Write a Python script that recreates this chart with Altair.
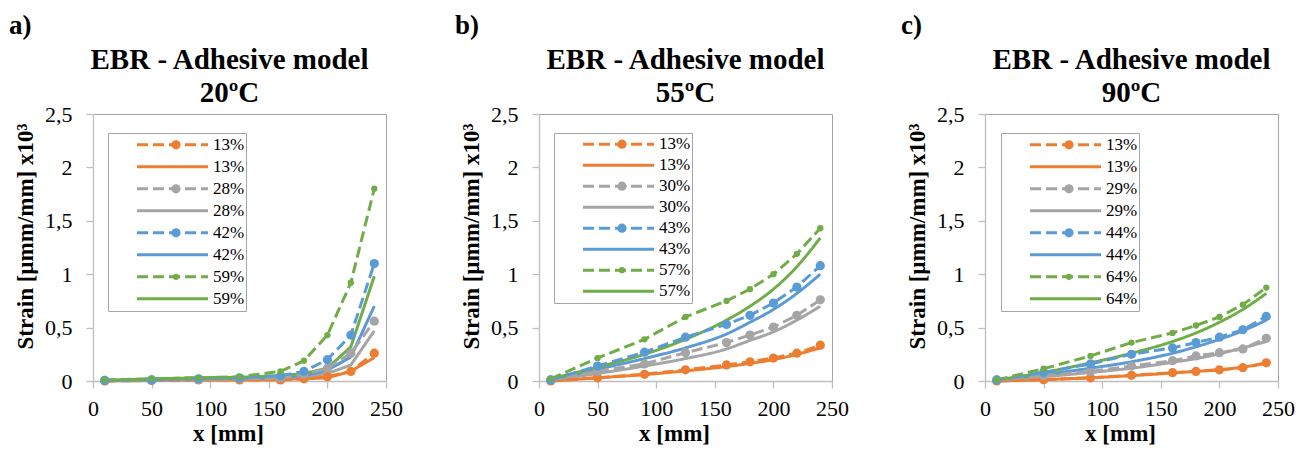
import altair as alt
import pandas as pd

# ---------------- data ----------------
X = [10, 50, 90, 125, 160, 180, 200, 220, 240]

# Panel a) 20ºC
A_LABELS = ["13%", "13%", "28%", "28%", "42%", "42%", "59%", "59%"]
A_EXP = [
    [0.00, 0.005, 0.01, 0.01, 0.01, 0.02, 0.04, 0.09, 0.26],
    [0.005, 0.01, 0.015, 0.02, 0.03, 0.06, 0.12, 0.26, 0.56],
    [0.005, 0.01, 0.02, 0.03, 0.05, 0.09, 0.20, 0.43, 1.10],
    [0.01, 0.02, 0.03, 0.04, 0.09, 0.19, 0.43, 0.92, 1.80],
]
A_NUM = [
    [0.00, 0.005, 0.01, 0.01, 0.015, 0.02, 0.03, 0.09, 0.22],
    [0.005, 0.01, 0.015, 0.02, 0.025, 0.04, 0.07, 0.15, 0.47],
    [0.005, 0.015, 0.02, 0.025, 0.03, 0.05, 0.10, 0.225, 0.70],
    [0.005, 0.02, 0.03, 0.035, 0.05, 0.07, 0.12, 0.32, 0.98],
]

# Panel b) 55ºC
B_LABELS = ["13%", "13%", "30%", "30%", "43%", "43%", "57%", "57%"]
B_EXP = [
    [0.00, 0.03, 0.063, 0.105, 0.15, 0.18, 0.215, 0.26, 0.335],
    [0.01, 0.09, 0.16, 0.265, 0.36, 0.43, 0.505, 0.615, 0.76],
    [0.01, 0.14, 0.27, 0.41, 0.53, 0.615, 0.73, 0.88, 1.08],
    [0.02, 0.215, 0.39, 0.60, 0.75, 0.86, 1.00, 1.19, 1.43],
]
B_NUM = [
    [0.00, 0.03, 0.06, 0.095, 0.135, 0.165, 0.20, 0.25, 0.31],
    [0.01, 0.07, 0.14, 0.21, 0.30, 0.38, 0.46, 0.57, 0.70],
    [0.01, 0.11, 0.21, 0.31, 0.44, 0.55, 0.67, 0.82, 1.00],
    [0.02, 0.13, 0.25, 0.39, 0.57, 0.70, 0.86, 1.07, 1.34],
]

# Panel c) 90ºC
C_LABELS = ["13%", "13%", "29%", "29%", "44%", "44%", "64%", "64%"]
C_EXP = [
    [0.00, 0.012, 0.03, 0.053, 0.078, 0.09, 0.105, 0.125, 0.17],
    [0.01, 0.05, 0.09, 0.14, 0.19, 0.235, 0.265, 0.30, 0.40],
    [0.01, 0.08, 0.16, 0.25, 0.31, 0.36, 0.41, 0.48, 0.605],
    [0.01, 0.115, 0.235, 0.36, 0.45, 0.52, 0.60, 0.715, 0.875],
]
C_NUM = [
    [0.00, 0.013, 0.03, 0.05, 0.075, 0.09, 0.105, 0.13, 0.165],
    [0.005, 0.04, 0.08, 0.12, 0.175, 0.21, 0.255, 0.31, 0.37],
    [0.01, 0.06, 0.12, 0.18, 0.26, 0.32, 0.39, 0.47, 0.57],
    [0.01, 0.08, 0.17, 0.26, 0.37, 0.45, 0.55, 0.67, 0.82],
]

TAGS = ["a)", "b)", "c)"]
TEMPS = ["20ºC", "55ºC", "90ºC"]
TITLE_LINE = "EBR - Adhesive model"
X_TICKS = [0, 50, 100, 150, 200, 250]
Y_TICKS = [0, 0.5, 1, 1.5, 2, 2.5]

# ---------------- styles ----------------
COLORS = ["#ED7D31", "#A5A5A5", "#5B9BD5", "#70AD47"]
FONT = "Liberation Serif"
NBSP = "\u00a0" * 7
KEYS = list(range(8))
DOT_KEYS = list(range(10, 18))
COLOR_RANGE = [c for c in COLORS for _ in range(2)]
DOT_FILL_RANGE = [COLORS[0], "transparent", COLORS[1], "transparent",
                  COLORS[2], "transparent", COLORS[3], "transparent"]
DASH_RANGE = [[11, 5], [1, 0]] * 4
DOT_SIZE_RANGE = [85, 0, 85, 0, 85, 0, 40, 0]


def panel(idx, labels, exp_s, num_s, interp, clip_h, legend_x, title_dx):
    rows = []
    for i in range(4):
        for xv, yv in zip(X, exp_s[i]):
            rows.append({"x": xv, "y": yv, "k": 2 * i, "kind": "exp"})
        for xv, yv in zip(X, num_s[i]):
            rows.append({"x": xv, "y": yv, "k": 2 * i + 1, "kind": "num"})
    df = pd.DataFrame(rows)

    label_arr = "[" + ",".join(f"'{l}'" for l in labels) + "]"

    line_legend = alt.Legend(
        orient="none",
        legendX=legend_x,
        legendY=19,
        title=None,
        labelExpr=f"{label_arr}[datum.value] + '{NBSP}'",
        labelFont=FONT,
        labelFontSize=17,
        labelColor="black",
        labelOffset=3.5,
        symbolType="stroke",
        symbolSize=5041,
        symbolStrokeWidth=3,
        symbolOffset=26.5,
        symbolOpacity=1,
        clipHeight=clip_h,
        rowPadding=0,
        padding=1,
        strokeColor="#A6A6A6",
        fillColor="white",
        zindex=1,
    )
    dot_legend = alt.Legend(
        orient="none",
        legendX=legend_x,
        legendY=19,
        title=None,
        labelExpr="''",
        labelFontSize=17,
        symbolType="circle",
        symbolStrokeWidth=0,
        symbolOffset=58.5,
        symbolOpacity=1,
        clipHeight=clip_h,
        rowPadding=0,
        padding=1,
        zindex=2,
    )

    color = alt.Color("k:N", scale=alt.Scale(domain=KEYS, range=COLOR_RANGE), legend=line_legend)
    dash = alt.StrokeDash("k:N", scale=alt.Scale(domain=KEYS, range=DASH_RANGE), legend=line_legend)

    xenc = alt.X(
        "x:Q",
        scale=alt.Scale(domain=[0, 250], nice=False, padding=0),
        axis=alt.Axis(values=X_TICKS, title="x [mm]", labelPadding=10, titlePadding=3,
                      titleX=135, labelFlush=False),
    )
    yenc = alt.Y(
        "y:Q",
        scale=alt.Scale(domain=[0, 2.5], nice=False, padding=0),
        axis=alt.Axis(
            values=Y_TICKS,
            title="Strain [µmm/mm] x10³",
            labelExpr="replace(toString(datum.value), '.', ',')",
            labelPadding=14,
            labelFlush=False,
            titlePadding=7,
            titleY=122,
        ),
    )

    base = alt.Chart(df)
    num_lines = base.transform_filter("datum.kind == 'num'").mark_line(
        strokeWidth=3, interpolate=interp
    ).encode(x=xenc, y=yenc, color=color, strokeDash=dash)
    exp_lines = base.transform_filter("datum.kind == 'exp'").mark_line(
        strokeWidth=3
    ).encode(x=xenc, y=yenc, color=color, strokeDash=dash)
    exp_pts = base.transform_filter("datum.kind == 'exp'").transform_calculate(
        k2="datum.k + 10"
    ).mark_point(filled=True, opacity=1, strokeWidth=0).encode(
        x=xenc,
        y=yenc,
        fill=alt.Fill("k2:O", scale=alt.Scale(type="ordinal", domain=DOT_KEYS, range=DOT_FILL_RANGE),
                      legend=dot_legend),
        size=alt.Size("k2:O", scale=alt.Scale(type="ordinal", domain=DOT_KEYS, range=DOT_SIZE_RANGE),
                      legend=dot_legend),
    )
    tag = alt.Chart(pd.DataFrame({"t": [TAGS[idx]]})).mark_text(
        align="left", baseline="top", font=FONT, fontSize=27, fontWeight="bold", color="black"
    ).encode(x=alt.value(-84), y=alt.value(-101), text="t:N")

    return alt.layer(num_lines, exp_lines, exp_pts, tag).properties(
        width=293,
        height=267,
        title=alt.Title(
            [TITLE_LINE, TEMPS[idx]],
            font=FONT,
            fontSize=29,
            fontWeight="bold",
            color="black",
            lineHeight=33,
            anchor="middle",
            frame="group",
            offset=4,
            dx=title_dx,
            dy=100,
        ),
    )


pa = panel(0, A_LABELS, A_EXP, A_NUM, "linear", 21.6, 15, -10)
pb = panel(1, B_LABELS, B_EXP, B_NUM, "monotone", 20.4, 15, 0)
pc = panel(2, C_LABELS, C_EXP, C_NUM, "monotone", 21.6, 16, 0)

chart = (
    alt.hconcat(pa, pb, pc, spacing=153, bounds="flush")
    .resolve_scale(color="independent", strokeDash="independent", fill="independent",
                   size="independent", x="independent", y="independent")
    .resolve_legend(color="independent", strokeDash="independent", fill="independent", size="independent")
    .properties(padding={"left": 8, "top": 11, "right": 5, "bottom": 5}, background="white")
    .configure_view(stroke="#A6A6A6", strokeWidth=1)
    .configure_legend(labelFont=FONT, labelFontSize=17, labelColor="black")
    .configure_axis(
        domainColor="#BFBFBF",
        tickColor="#BFBFBF",
        domainWidth=1.3,
        tickWidth=1.3,
        tickSize=7,
        grid=False,
        labelFont=FONT,
        labelFontSize=22,
        labelColor="black",
        titleFont=FONT,
        titleFontSize=23,
        titleFontWeight="bold",
        titleColor="black",
    )
)

chart.save("out.html", embed_options={"renderer": "svg", "actions": False})
